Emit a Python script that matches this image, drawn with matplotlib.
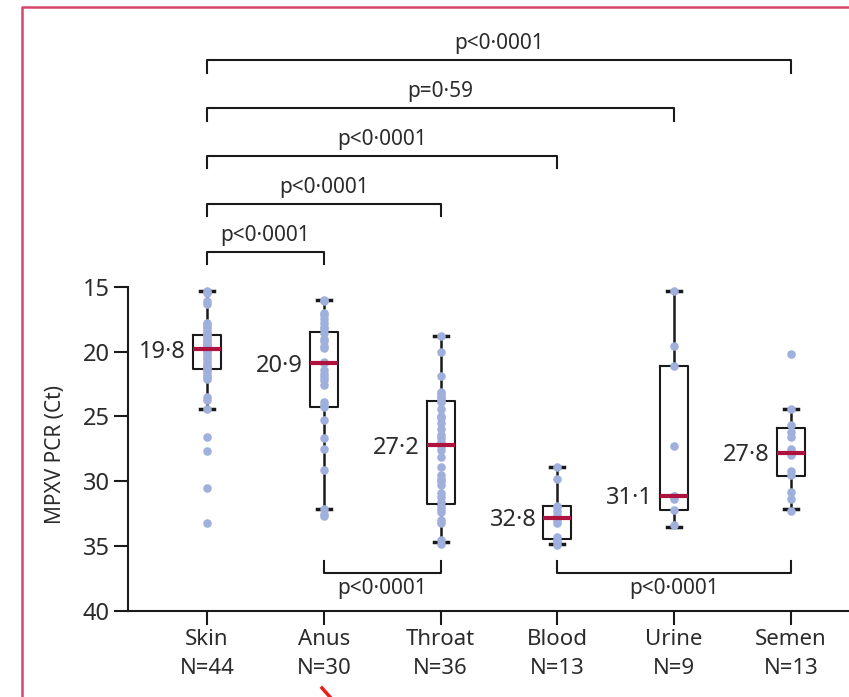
import matplotlib
matplotlib.use("Agg")
import matplotlib.pyplot as plt
from matplotlib.lines import Line2D

plt.rcParams['font.family'] = ['Noto Sans', 'DejaVu Sans']

# sample sites, sample counts
sites = ["Skin", "Anus", "Throat", "Blood", "Urine", "Semen"]
counts = [44, 30, 36, 13, 9, 13]

# Ct values
skin = [15.3, 15.5, 16.1, 16.3, 17.8, 17.9, 18.0, 18.2, 18.4, 18.6, 18.7, 18.8,
        19.0, 19.1, 19.3, 19.4, 19.5, 19.6, 19.7, 19.7, 19.8, 19.8, 19.9, 20.0,
        20.2, 20.4, 20.6, 20.8, 21.0, 21.1, 21.2, 21.3, 21.4, 21.6, 21.8, 22.0,
        22.1, 23.5, 23.7, 24.4, 26.6, 27.7, 30.5, 33.2]
anus = [16.0, 16.1, 17.0, 17.2, 17.5, 17.8, 18.1, 18.3, 18.6, 19.0, 19.2, 19.6,
        19.7, 20.8, 20.9, 21.4, 21.7, 22.0, 22.2, 22.6, 23.9, 24.1, 24.3, 25.3,
        26.7, 27.5, 29.1, 32.1, 32.5, 32.7]
throat = [18.8, 20.0, 21.9, 23.1, 23.3, 23.5, 23.6, 23.8, 23.9, 24.4, 25.0, 25.1,
          25.5, 26.0, 26.4, 26.7, 27.0, 27.1, 27.3, 27.6, 28.1, 28.9, 29.5, 29.8,
          30.0, 30.3, 30.9, 31.2, 31.6, 31.9, 32.1, 32.4, 33.0, 33.2, 34.5, 34.8]
blood = [28.9, 29.8, 31.9, 32.0, 32.3, 32.6, 32.8, 33.0, 33.2, 34.3, 34.5, 34.7, 34.9]
urine = [15.3, 19.6, 21.1, 27.3, 31.1, 31.1, 31.4, 32.2, 33.4]
semen = [20.2, 24.4, 25.7, 26.2, 26.6, 27.5, 27.8, 28.0, 29.2, 29.5, 30.8, 31.4, 32.3]
groups = [skin, anus, throat, blood, urine, semen]

# box summaries as drawn
medians = [19.8, 20.9, 27.2, 32.8, 31.1, 27.8]
q1 = [18.7, 18.5, 23.85, 31.9, 21.1, 25.9]
q3 = [21.35, 24.3, 31.75, 34.45, 32.2, 29.6]
whis_lo = [15.3, 16.05, 18.8, 28.9, 15.3, 24.4]
whis_hi = [24.4, 32.1, 34.65, 34.8, 33.5, 32.1]

# comparisons: (i, j, label)
top_pairs = [(0, 5, "p<0·0001"), (0, 4, "p=0·59"), (0, 3, "p<0·0001"),
             (0, 2, "p<0·0001"), (0, 1, "p<0·0001")]
bottom_pairs = [(1, 2, "p<0·0001"), (3, 5, "p<0·0001")]

txt = '#2b2b2b'
dot = '#9fb0dc'
red = '#b0123f'

fig = plt.figure(figsize=(8.49, 6.97), dpi=100)
ax = fig.add_axes([128/849, 86/697, 721/849, 611/697])

pos = list(range(len(sites)))
stats = []
for k in pos:
    stats.append(dict(med=medians[k], q1=q1[k], q3=q3[k],
                      whislo=whis_lo[k], whishi=whis_hi[k], label=''))

ax.bxp(stats, positions=pos, widths=0.24, capwidths=0.12, showfliers=False,
       boxprops=dict(color='#1a1a1a', lw=1.5),
       whiskerprops=dict(color='#1a1a1a', lw=1.8),
       capprops=dict(color='#1a1a1a', lw=2.5),
       medianprops=dict(color=red, lw=3, zorder=5))

for k, vals in enumerate(groups):
    ax.scatter([k] * len(vals), vals, s=38, color=dot, zorder=4, linewidths=0)
    ax.text(k - 0.18, medians[k] + 0.2, f"{medians[k]:.1f}".replace('.', '·'),
            ha='right', va='center', fontsize=17, color=txt)

# brackets above
for n, (i, j, lab) in enumerate(top_pairs):
    y = -2.45 + n * 3.69
    ax.plot([i, i, j, j], [y + 0.95, y, y, y + 0.95], color='#1a1a1a', lw=1.5,
            clip_on=False)
    ax.text((i + j) / 2, y - 0.45, lab, ha='center', va='bottom', fontsize=15,
            color=txt)

# brackets below
for i, j, lab in bottom_pairs:
    y = 37.07
    ax.plot([i, i, j, j], [y - 0.9, y, y, y - 0.9], color='#1a1a1a', lw=1.5)
    ax.text((i + j) / 2, y + 0.35, lab, ha='center', va='top', fontsize=15,
            color=txt)

ax.set_xlim(-0.676, 5.497)
ax.set_ylim(40, -7.1)
ax.set_yticks([15, 20, 25, 30, 35, 40])
ax.set_xticks(pos)
ax.set_xticklabels([f"{s}\nN={c}" for s, c in zip(sites, counts)],
                   linespacing=1.5)
ax.tick_params(axis='both', length=10, width=1.5, colors='#1a1a1a',
               labelcolor=txt, labelsize=16)
ax.tick_params(axis='y', pad=3, labelsize=17)
ax.tick_params(axis='x', pad=3)
for s in ['top', 'right']:
    ax.spines[s].set_visible(False)
for s in ['left', 'bottom']:
    ax.spines[s].set_linewidth(1.5)
    ax.spines[s].set_color('#1a1a1a')
ax.spines['left'].set_bounds(15, 40)

fig.text(55/849, 1 - 455/697, "MPXV PCR (Ct)", rotation=90, ha='center',
         va='center', fontsize=15, color=txt)

# page frame and a stray mark
fig.add_artist(Line2D([22/849, 22/849, 1], [0, 1 - 7/697, 1 - 7/697],
                      color='#d6456b', lw=1.8))
fig.add_artist(Line2D([322/849, 330/849], [1 - 688/697, 1 - 697/697],
                      color='#e8201a', lw=2.5))

fig.savefig("out.png", dpi=100)
